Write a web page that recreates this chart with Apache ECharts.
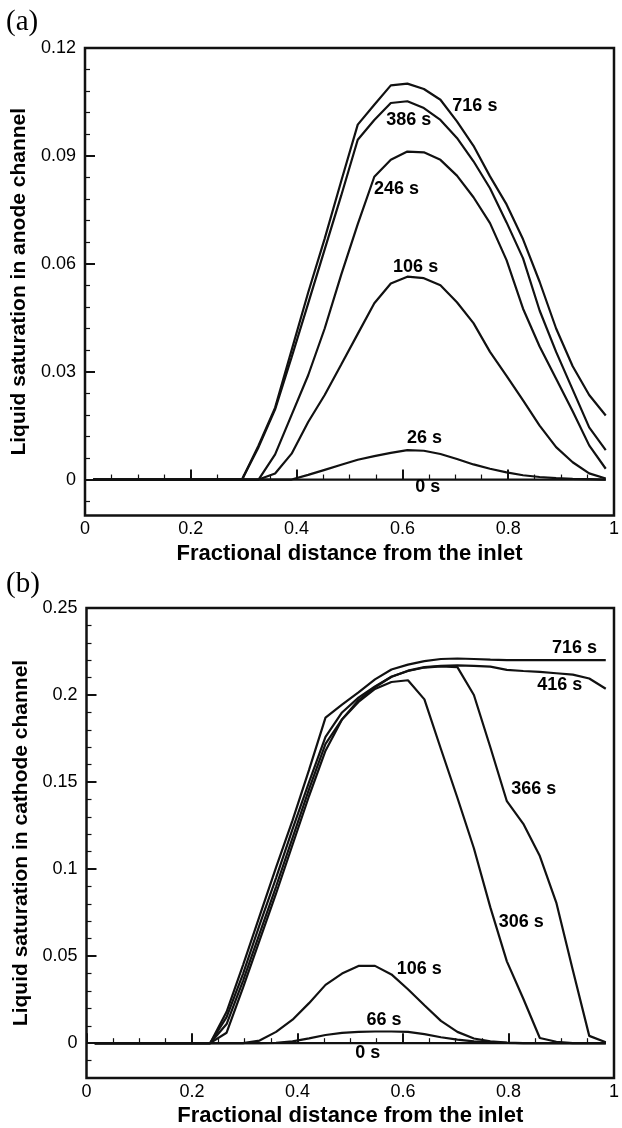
<!DOCTYPE html>
<html>
<head>
<meta charset="utf-8">
<script src="https://cdn.jsdelivr.net/npm/echarts@6/dist/echarts.min.js"></script>
<style>
html,body{margin:0;padding:0;background:#fff;}
#c{width:622px;height:1128px;}
</style>
</head>
<body>
<div id="c"></div>
<script>
// x positions (cell centres, fractional distance from the inlet)
const xPos = [0.0156,0.0469,0.0781,0.1094,0.1406,0.1719,0.2031,0.2344,0.2656,0.2969,0.3281,0.3594,0.3906,0.4219,0.4531,0.4844,0.5156,0.5469,0.5781,0.6094,0.6406,0.6719,0.7031,0.7344,0.7656,0.7969,0.8281,0.8594,0.8906,0.9219,0.9531,0.9844];

// (a) anode channel
const a0s   = [0,0,0,0,0,0,0,0,0,0,0,0,0,0,0,0,0,0,0,0,0,0,0,0,0,0,0,0,0,0,0,0];
const a26s  = [0,0,0,0,0,0,0,0,0,0,0,0,0,0.0013,0.0027,0.0041,0.0055,0.0065,0.0074,0.0082,0.0080,0.0071,0.0057,0.0042,0.0030,0.0020,0.0012,0.0007,0.0004,0.0002,0.0001,0];
const a106s = [0,0,0,0,0,0,0,0,0,0,0,0.0017,0.0072,0.016,0.0235,0.032,0.0405,0.049,0.0545,0.0564,0.056,0.054,0.0493,0.0435,0.0355,0.0288,0.022,0.015,0.009,0.0048,0.0017,0.0003];
const a246s = [0,0,0,0,0,0,0,0,0,0,0,0.007,0.018,0.029,0.042,0.057,0.071,0.0842,0.0889,0.0912,0.0910,0.0889,0.0845,0.0785,0.0713,0.061,0.0475,0.037,0.028,0.019,0.0095,0.003];
const a386s = [0,0,0,0,0,0,0,0,0,0,0.009,0.0195,0.034,0.049,0.064,0.079,0.0945,0.100,0.1047,0.1052,0.1033,0.1000,0.0950,0.0885,0.081,0.0715,0.0615,0.047,0.0355,0.025,0.0145,0.0082];
const a716s = [0,0,0,0,0,0,0,0,0,0,0.0095,0.020,0.036,0.052,0.067,0.083,0.0987,0.1042,0.1096,0.1101,0.1086,0.1056,0.0996,0.0928,0.0843,0.0765,0.0668,0.055,0.042,0.0315,0.0235,0.0178];

// (b) cathode channel
const b0s   = [0,0,0,0,0,0,0,0,0,0,0,0,0,0,0,0,0,0,0,0,0,0,0,0,0,0,0,0,0,0,0,0];
const b66s  = [0,0,0,0,0,0,0,0,0,0,0,0.0002,0.001,0.0028,0.0047,0.0059,0.0065,0.0067,0.0067,0.0065,0.0052,0.0034,0.002,0.001,0.0005,0.0002,0,0,0,0,0,0];
const b106s = [0,0,0,0,0,0,0,0,0,0,0.0015,0.0065,0.0135,0.023,0.0335,0.040,0.0444,0.0444,0.0395,0.031,0.0218,0.0128,0.0065,0.0027,0.001,0.0003,0,0,0,0,0,0];
const b306s = [0,0,0,0,0,0,0,0,0.006,0.032,0.059,0.086,0.114,0.142,0.168,0.186,0.196,0.2035,0.2075,0.2085,0.1975,0.169,0.141,0.112,0.078,0.047,0.0255,0.003,0.0008,0,0,0];
const b366s = [0,0,0,0,0,0,0,0,0.011,0.036,0.063,0.090,0.118,0.146,0.172,0.186,0.197,0.2045,0.2105,0.2138,0.2158,0.2165,0.2160,0.200,0.170,0.139,0.126,0.1075,0.0808,0.042,0.0042,0.0005];
const b416s = [0,0,0,0,0,0,0,0,0.015,0.040,0.068,0.095,0.123,0.150,0.176,0.190,0.1985,0.205,0.2105,0.214,0.216,0.2168,0.217,0.2168,0.2163,0.2145,0.2138,0.2133,0.2125,0.2117,0.2095,0.2036];
const b716s = [0,0,0,0,0,0,0,0,0.018,0.045,0.073,0.101,0.128,0.157,0.187,0.1945,0.2015,0.209,0.2147,0.2175,0.2195,0.2207,0.221,0.2207,0.2203,0.2200,0.2200,0.2200,0.2200,0.2200,0.2200,0.2200];

// curve labels [x, y, text]
const aLabels = [[0.737,0.1038,'716 s'],[0.612,0.1001,'386 s'],[0.589,0.0808,'246 s'],[0.625,0.0591,'106 s'],[0.642,0.0116,'26 s'],[0.648,-0.0021,'0 s']];
const bLabels = [[0.925,0.2268,'716 s'],[0.897,0.2055,'416 s'],[0.848,0.1458,'366 s'],[0.824,0.0695,'306 s'],[0.631,0.0425,'106 s'],[0.564,0.0132,'66 s'],[0.533,-0.0057,'0 s']];

// ticks
const aMajorTicks = [0,0.03,0.06,0.09,0.12];
const aMinorTicks = [-0.006,0.006,0.012,0.018,0.024,0.036,0.042,0.048,0.054,0.066,0.072,0.078,0.084,0.096,0.102,0.108,0.114];
const bMajorTicks = [0,0.05,0.1,0.15,0.2,0.25];
const bMinorTicks = [-0.01,0.01,0.02,0.03,0.04,0.06,0.07,0.08,0.09,0.11,0.12,0.13,0.14,0.16,0.17,0.18,0.19,0.21,0.22,0.23,0.24];

const SANS = '"Liberation Sans", Arial, Helvetica, sans-serif';
const INK = '#111';
const TXT = '#000';

function fmt(v){ return String(+(+v).toFixed(3)); }

function xAxisFor(gi){
  return {
    type:'value', gridIndex:gi, min:0, max:1, interval:0.2,
    name:'Fractional distance from the inlet', nameLocation:'middle', nameGap:27,
    nameTextStyle:{fontFamily:SANS, fontSize:22, fontWeight:'bold', color:TXT},
    axisLine:{show:false},
    axisTick:{show:true, inside:true, length:10, lineStyle:{color:INK, width:2}},
    minorTick:{show:true, splitNumber:4, length:5, lineStyle:{color:INK, width:1.2}},
    splitLine:{show:false}, minorSplitLine:{show:false},
    axisLabel:{fontFamily:SANS, fontSize:18, color:TXT, margin:5, formatter:fmt}
  };
}
function yMain(gi, min, max, ticks, name){
  return {
    type:'value', gridIndex:gi, min:min, max:max, position:'left',
    name:name, nameLocation:'middle', nameGap:52,
    nameTextStyle:{fontFamily:SANS, fontSize:21, fontWeight:'bold', color:TXT},
    axisLine:{show:false},
    axisTick:{show:true, inside:true, length:10, customValues:ticks, lineStyle:{color:INK, width:2}},
    axisLabel:{fontFamily:SANS, fontSize:18, color:TXT, margin:9, customValues:ticks, formatter:fmt},
    splitLine:{show:false}
  };
}
function yMinor(gi, min, max, ticks){
  return {
    type:'value', gridIndex:gi, min:min, max:max, position:'left', offset:0,
    axisLine:{show:false},
    axisTick:{show:true, inside:true, length:5, customValues:ticks, lineStyle:{color:INK, width:1.2}},
    axisLabel:{show:false, customValues:ticks},
    splitLine:{show:false}
  };
}
function lineSeries(arr, xi, yi){
  return {
    type:'line', xAxisIndex:xi, yAxisIndex:yi,
    data: xPos.map((x,i)=>[x, arr[i]]),
    showSymbol:false, symbol:'none', smooth:false,
    lineStyle:{color:INK, width:2.2}, animation:false, silent:true
  };
}
function labelSeries(list, xi, yi){
  return {
    type:'scatter', xAxisIndex:xi, yAxisIndex:yi,
    symbolSize:1, itemStyle:{color:'#fff'},
    data: list.map(d=>({value:[d[0], d[1]], name:d[2]})),
    label:{show:true, position:'inside', formatter:p=>p.name, opacity:1,
      textBorderWidth:0, fontFamily:SANS, fontSize:18, fontWeight:'bold', color:TXT},
    emphasis:{disabled:true},
    animation:false, silent:true, z:5
  };
}

const chart = echarts.init(document.getElementById('c'), null, {renderer:'canvas'});
chart.setOption({
  backgroundColor:'#fff',
  animation:false,
  grid:[
    {left:85, top:48, width:535, height:467.5, show:true, borderColor:INK, borderWidth:2.5, backgroundColor:'transparent'},
    {left:86.5, top:608, width:534, height:470.5, show:true, borderColor:INK, borderWidth:2.5, backgroundColor:'transparent'}
  ],
  xAxis:[xAxisFor(0), xAxisFor(1)],
  yAxis:[
    yMain(0, -0.01, 0.12, aMajorTicks, 'Liquid saturation in anode channel'),
    yMinor(0, -0.01, 0.12, aMinorTicks),
    yMain(1, -0.02, 0.25, bMajorTicks, 'Liquid saturation in cathode channel'),
    yMinor(1, -0.02, 0.25, bMinorTicks)
  ],
  graphic:[
    {type:'text', left:6, top:8, style:{text:'(a)', font:'29px "Liberation Serif", "Times New Roman", serif', fill:TXT}},
    {type:'text', left:6, top:570, style:{text:'(b)', font:'29px "Liberation Serif", "Times New Roman", serif', fill:TXT}}
  ],
  series:[
    lineSeries(a0s,0,0), lineSeries(a26s,0,0), lineSeries(a106s,0,0), lineSeries(a246s,0,0), lineSeries(a386s,0,0), lineSeries(a716s,0,0),
    labelSeries(aLabels,0,0),
    lineSeries(b0s,1,2), lineSeries(b66s,1,2), lineSeries(b106s,1,2), lineSeries(b306s,1,2), lineSeries(b366s,1,2), lineSeries(b416s,1,2), lineSeries(b716s,1,2),
    labelSeries(bLabels,1,2)
  ]
});
</script>
</body>
</html>
